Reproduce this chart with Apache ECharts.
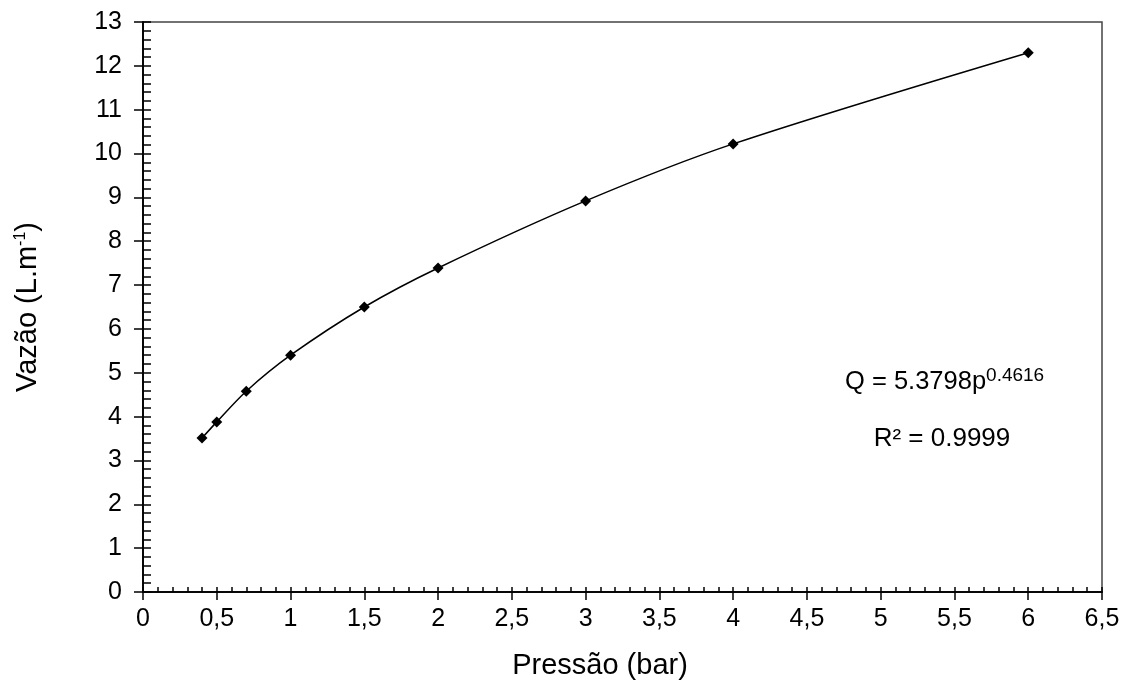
<!DOCTYPE html>
<html>
<head>
<meta charset="utf-8">
<script src="https://cdn.jsdelivr.net/npm/echarts@6/dist/echarts.min.js"></script>
<style>
html,body{margin:0;padding:0;background:#fff;}
#chart{width:1129px;height:689px;}
</style>
</head>
<body>
<div id="chart"></div>
<script>
// Data
const pressure = [0.4, 0.5, 0.7, 1, 1.5, 2, 3, 4, 6];
const flow = [3.51, 3.88, 4.58, 5.40, 6.50, 7.39, 8.92, 10.22, 12.30];
const xTickLabels = ['0','0,5','1','1,5','2','2,5','3','3,5','4','4,5','5','5,5','6','6,5'];
const xTitle = 'Pressão (bar)';
const yTitle = 'Vazão (L.m{sup|-1})';
const eqText = 'Q = 5.3798p{sup|0.4616}';
const r2Text = 'R² = 0.9999';

const FONT = '"Liberation Sans", Arial, sans-serif';
const chart = echarts.init(document.getElementById('chart'));

const xFmt = v => xTickLabels[Math.round(v / 0.5)] ?? '';
const baseX = {
  type: 'value', min: 0, max: 6.5, interval: 0.5,
  splitLine: { show: false },
  axisLine: { show: true, onZero: false, lineStyle: { color: '#000', width: 1.5 } }
};
const baseY = {
  type: 'value', min: 0, max: 13, interval: 1,
  splitLine: { show: false },
  axisLine: { show: true, onZero: false, lineStyle: { color: '#000', width: 1.5 } }
};

chart.setOption({
  animation: false,
  backgroundColor: '#fff',
  grid: { left: 143, right: 27, top: 22, bottom: 97, show: true, borderColor: '#444', borderWidth: 1.5 },
  xAxis: [
    Object.assign({}, baseX, {
      position: 'bottom',
      axisTick: { show: true, inside: false, length: 8, lineStyle: { color: '#000', width: 1.5 } },
      axisLabel: { formatter: xFmt, fontFamily: FONT, fontSize: 25, color: '#000', margin: 15 }
    }),
    Object.assign({}, baseX, {
      position: 'bottom',
      axisTick: { show: true, inside: true, length: 5, lineStyle: { color: '#000', width: 1.5 } },
      minorTick: { show: true, splitNumber: 5, length: 5, lineStyle: { color: '#000', width: 1.5 } },
      axisLabel: { show: false }
    })
  ],
  yAxis: [
    Object.assign({}, baseY, {
      position: 'left',
      axisTick: { show: true, inside: false, length: 9, lineStyle: { color: '#000', width: 1.5 } },
      axisLabel: { fontFamily: FONT, fontSize: 25, color: '#000', margin: 21 },
      name: yTitle,
      nameLocation: 'middle',
      nameGap: 101,
      nameRotate: 90,
      nameTextStyle: {
        fontFamily: FONT, fontSize: 29, color: '#000',
        rich: { sup: { fontFamily: FONT, fontSize: 16, color: '#000', verticalAlign: 'top', padding: [0, 0, 13, 0] } }
      }
    }),
    Object.assign({}, baseY, {
      position: 'left',
      axisTick: { show: true, inside: true, length: 8, lineStyle: { color: '#000', width: 1.5 } },
      minorTick: { show: true, splitNumber: 5, length: 8, lineStyle: { color: '#000', width: 1.5 } },
      axisLabel: { show: false }
    })
  ],
  graphic: [
    { type: 'text', x: 600, y: 651, style: { text: xTitle, align: 'center', verticalAlign: 'top', fontFamily: FONT, fontSize: 29, fill: '#000' } },
    { type: 'text', x: 845, y: 366, style: {
        text: eqText, verticalAlign: 'top', fontFamily: FONT, fontSize: 25.5, fill: '#000',
        rich: { sup: { fontFamily: FONT, fontSize: 19, fill: '#000', verticalAlign: 'top', padding: [0, 0, 12, 0] } } } },
    { type: 'text', x: 942, y: 426, style: { text: r2Text, align: 'center', verticalAlign: 'top', fontFamily: FONT, fontSize: 26, fill: '#000' } }
  ],
  series: [{
    type: 'line',
    xAxisIndex: 0, yAxisIndex: 0,
    data: pressure.map((p, i) => [p, flow[i]]),
    smooth: 0.3,
    symbol: 'diamond',
    symbolSize: 11,
    itemStyle: { color: '#000' },
    lineStyle: { color: '#000', width: 1.5 }
  }]
});
</script>
</body>
</html>
